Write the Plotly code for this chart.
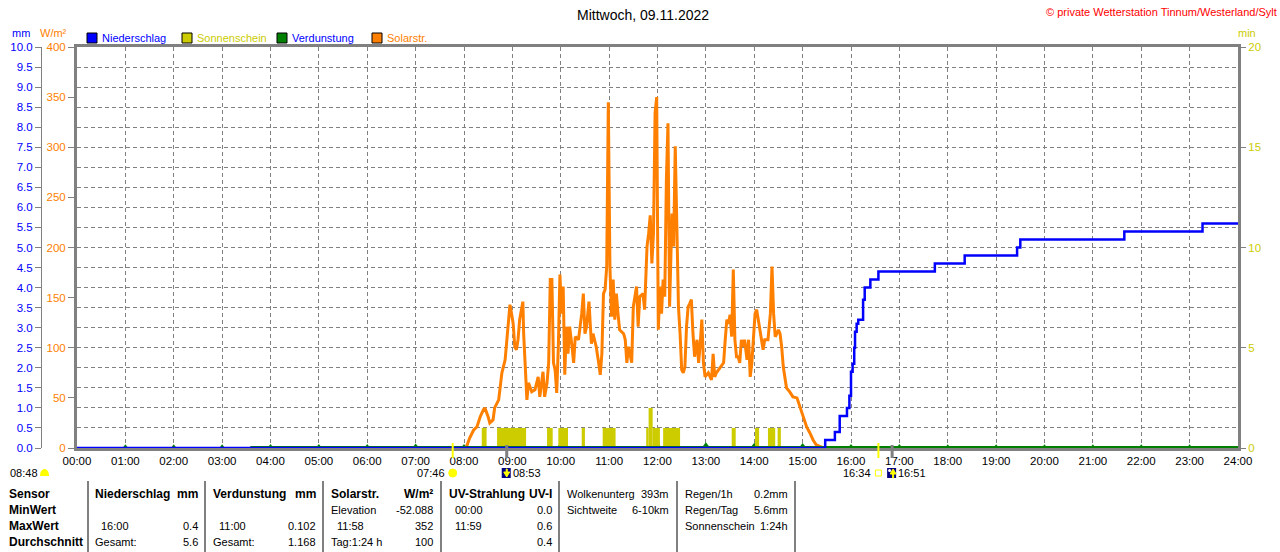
import plotly.graph_objects as go

# ---- data ----
hours = list(range(0, 25))
hour_labels = [f'{h:02d}:00' for h in hours]

# Solarstrahlung, minute of day / W/m²
solar_min = [481, 483, 487, 492, 496, 500, 504, 506, 510, 512, 516, 518, 523, 525, 527,
             531, 533, 535, 537, 539, 541, 543, 545, 547, 549, 553, 554, 556, 558, 560,
             564, 568, 572, 574, 576, 578, 580, 583, 585, 587, 589, 591, 593, 595, 597,
             599, 601, 603, 605, 607, 609, 611, 614, 616, 618, 622, 626, 628, 630, 632,
             635, 638, 640, 644, 647, 649, 651, 653, 655, 657, 659, 661, 663, 665, 667,
             669, 671, 673, 678, 680, 682, 684, 688, 690, 694, 696, 698, 702, 704, 707,
             709, 711, 713, 715, 717, 719, 721, 723, 725, 727, 729, 731, 733, 735, 738,
             740, 742, 744, 746, 748, 750, 752, 754, 756, 758, 760, 762, 764, 766, 769,
             771, 773, 775, 777, 779, 783, 787, 789, 791, 793, 797, 802, 804, 806, 808,
             810, 812, 814, 816, 818, 820, 822, 824, 826, 828, 831, 833, 835, 837, 839,
             841, 843, 845, 847, 849, 851, 853, 857, 860, 862, 864, 866, 868, 870, 872,
             874, 876, 878, 880, 884, 888, 893, 897, 901, 905, 909, 913, 917, 924, 926, 934]
solar_wm2 = [0, 1, 10, 18, 21, 31, 38, 40, 31, 25, 28, 40, 48, 61, 75,
             88, 108, 128, 143, 134, 124, 101, 98, 108, 128, 146, 114, 81, 48, 65,
             56, 58, 71, 51, 65, 76, 51, 65, 85, 168, 168, 85, 78, 55, 101,
             173, 134, 161, 73, 121, 94, 121, 101, 85, 111, 108, 134, 154, 114, 121,
             146, 104, 114, 101, 85, 73, 94, 154, 158, 181, 345, 181, 131, 168, 128,
             154, 134, 118, 114, 108, 85, 101, 85, 141, 161, 121, 151, 154, 138, 201,
             214, 232, 184, 214, 334, 350, 118, 161, 134, 168, 151, 267, 324, 141, 234,
             201, 301, 201, 141, 114, 78, 75, 81, 121, 141, 144, 148, 114, 91, 108,
             85, 104, 128, 85, 71, 75, 68, 94, 71, 75, 80, 85, 108, 128, 124,
             133, 111, 178, 108, 91, 91, 85, 108, 101, 108, 88, 108, 71, 85, 114,
             134, 138, 128, 118, 108, 98, 108, 108, 134, 181, 134, 111, 114, 118, 114,
             101, 81, 68, 60, 56, 51, 50, 41, 31, 21, 15, 8, 3, 1, 0, 0]

# Niederschlag, Tagessumme mm
rain_min = [0, 928, 940, 946, 955, 958, 960, 962, 964, 965, 967, 969, 975, 977, 984,
            994, 1064, 1101, 1166, 1170, 1299, 1396, 1440]
rain_mm = [0, 0.2, 0.4, 0.8, 1.0, 1.3, 1.9, 2.1, 2.5, 2.9, 3.1, 3.2, 3.7, 4.0, 4.2,
           4.4, 4.6, 4.8, 5.0, 5.2, 5.4, 5.6, 5.6]

# Verdunstung
evap_line_min = [215, 1440]
evap_line_mm = [0, 0]
evap_hour = list(range(1, 24))
evap_mm = [0.03, 0.03, 0.03, 0.04, 0.04, 0.04, 0.05, 0.04, 0.06, 0.08, 0.102, 0.09,
           0.08, 0.07, 0.06, 0.04, 0.04, 0.03, 0.03, 0.03, 0.03, 0.03, 0.03]

# Sonnenschein, min
sun_start = [502, 521, 583, 597, 626, 652, 706, 709, 714, 727, 812, 841, 857, 869]
sun_end = [508, 557, 590, 609, 630, 668, 709, 714, 723, 748, 817, 846, 866, 873]
sun_val = [1, 1, 1, 1, 1, 1, 1, 2, 1, 1, 1, 1, 1, 1]

sunrise, sunset = '07:46', '16:34'
moonrise, moonset = '08:53', '16:51'
cloud_time = '08:48'

title = 'Mittwoch, 09.11.2022'
copyright_txt = '© private Wetterstation Tinnum/Westerland/Sylt'

legend_names = ['Niederschlag', 'Sonnenschein', 'Verdunstung', 'Solarstr.']

table_rows = ['Sensor', 'MinWert', 'MaxWert', 'Durchschnitt']
# each column: header left, header right, then rows (left text, right text)
tab_cols = [
    [('Niederschlag', 'mm'), ('', ''), ('16:00', '0.4'), ('Gesamt:', '5.6')],
    [('Verdunstung', 'mm'), ('', ''), ('11:00', '0.102'), ('Gesamt:', '1.168')],
    [('Solarstr.', 'W/m²'), ('Elevation', '-52.088'), ('11:58', '352'), ('Tag:1:24 h', '100')],
    [('UV-Strahlung', 'UV-I'), ('00:00', '0.0'), ('11:59', '0.6'), ('', '0.4')],
    [('Wolkenunterg', '393m'), ('Sichtweite', '6-10km'), ('', ''), ('', '')],
    [('Regen/1h', '0.2mm'), ('Regen/Tag', '5.6mm'), ('Sonnenschein', '1:24h'), ('', '')],
]


def tmin(s):
    h, m = s.split(':')
    return int(h) * 60 + int(m)


# ---- styling / layout ----
W, H = 1280, 552
X0, X1, YT, YB = 77, 1238, 47, 448
BLUE, OLIVE, GREEN, ORANGE, GRAY = '#0000FF', '#CCCC00', '#008000', '#FF8000', '#808080'
FONT = 'Liberation Sans, Arial, sans-serif'


def px(x):
    return x / W


def py(y):
    return 1 - y / H


fig = go.Figure()

# hourly Verdunstung markers live on the main mm axis
fig.add_trace(go.Scatter(
    x=[h * 60 for h in evap_hour], y=evap_mm, mode='markers',
    marker=dict(color=GREEN, size=5, symbol='triangle-up'),
    yaxis='y', showlegend=False))

fig.add_trace(go.Bar(
    x=[(a + b) / 2 for a, b in zip(sun_start, sun_end)],
    y=sun_val,
    width=[b - a for a, b in zip(sun_start, sun_end)],
    marker=dict(color=OLIVE, line=dict(width=0)),
    yaxis='y2', name='Sonnenschein'))

fig.add_trace(go.Scatter(
    x=solar_min, y=solar_wm2, mode='lines',
    line=dict(color=ORANGE, width=3),
    yaxis='y3', name='Solarstr.'))

fig.add_trace(go.Scatter(
    x=evap_line_min, y=evap_line_mm, mode='lines',
    line=dict(color=GREEN, width=4),
    yaxis='y4', name='Verdunstung'))

fig.add_trace(go.Scatter(
    x=rain_min, y=rain_mm, mode='lines', line_shape='hv',
    line=dict(color=BLUE, width=2.5),
    yaxis='y4', name='Niederschlag'))

grid = dict(showgrid=True, gridcolor=GRAY, griddash='4px,3px', gridwidth=1)
yax = dict(showgrid=False, showline=True, linecolor=GRAY, linewidth=3,
           ticks='outside', tickcolor=GRAY, zeroline=False, automargin=False)
fig.update_layout(
    width=W, height=H, autosize=False,
    margin=dict(l=0, r=0, t=0, b=0, pad=0),
    paper_bgcolor='white', plot_bgcolor='white',
    showlegend=False, barmode='overlay',
    font=dict(family=FONT, size=11, color='black'),
    xaxis=dict(domain=[px(X0), px(X1)], range=[0, 1440], anchor='y',
               tickvals=[h * 60 for h in hours], ticktext=hour_labels,
               ticks='', showline=True, mirror=True, linecolor=GRAY, linewidth=3,
               layer='below traces', zeroline=False, automargin=False,
               tickfont=dict(size=11.5), **grid),
    yaxis=dict(domain=[py(YB), py(YT)], range=[0, 10], dtick=0.5, tickformat='.1f',
               anchor='free', position=px(41), side='left',
               showline=True, linecolor=GRAY, linewidth=1,
               ticks='outside', ticklen=6, tickcolor=GRAY, automargin=False,
               tickfont=dict(color=BLUE, size=11.5), zeroline=False, **grid),
    yaxis2=dict(overlaying='y', anchor='x', side='right', range=[0, 20], dtick=5,
                ticklen=5, tickfont=dict(color=OLIVE, size=11.5), **yax),
    yaxis3=dict(overlaying='y', anchor='x', side='left', range=[0, 400], dtick=50,
                ticklen=6, tickfont=dict(color=ORANGE, size=11.5), **yax),
    yaxis4=dict(overlaying='y', anchor='x', range=[0, 10], visible=False,
                automargin=False),
)

ann = []
shapes = []


def text(x, y, s, color='black', anchor='left', size=11, bold=False):
    if bold:
        s = f'<b>{s}</b>'
    ann.append(dict(x=px(x), y=py(y), xref='paper', yref='paper', text=s,
                    showarrow=False, xanchor=anchor, yanchor='middle', borderpad=0,
                    font=dict(color=color, size=size, family=FONT)))


# title, copyright, units
text(643, 15, title, anchor='center', size=14)
text(1278, 12, copyright_txt, color='#FF0000', anchor='right', size=11)
text(31, 33, 'mm', color=BLUE, anchor='right')
text(68, 33, 'W/m²', color=ORANGE, anchor='right')
text(1237, 33, 'min', color=OLIVE)

# legend
box_cols = [BLUE, OLIVE, GREEN, ORANGE]
txt_cols = [BLUE, OLIVE, BLUE, ORANGE]
for i, name in enumerate(legend_names):
    bx = 87 + i * 95
    shapes.append(dict(type='rect', xref='paper', yref='paper',
                       x0=px(bx), x1=px(bx + 10), y0=py(43), y1=py(33),
                       fillcolor=box_cols[i], line=dict(color='black', width=1)))
    text(bx + 14, 38, name, color=txt_cols[i])

# sun / moon events below the time axis
for t in (sunrise, sunset):
    shapes.append(dict(type='line', xref='x', yref='paper', x0=tmin(t), x1=tmin(t),
                       y0=py(443), y1=py(458), line=dict(color='#FFFF00', width=2)))
for t in (moonrise, moonset):
    shapes.append(dict(type='line', xref='x', yref='paper', x0=tmin(t), x1=tmin(t),
                       y0=py(445), y1=py(458), line=dict(color=GRAY, width=3)))


def icon(t, **kw):
    d = dict(xref='x', yref='paper', xsizemode='pixel', ysizemode='pixel',
             xanchor=tmin(t), yanchor=py(473))
    d.update(kw)
    shapes.append(d)


icon(sunrise, type='circle', x0=-4, x1=4, y0=-4, y1=4,
     fillcolor='#FFFF00', line=dict(color='#FFFF00', width=1))
icon(sunset, type='rect', x0=-3, x1=3, y0=-3, y1=3,
     fillcolor='white', line=dict(color='#FFFF00', width=1))
icon(moonrise, type='rect', x0=-5, x1=4, y0=-5, y1=5,
     fillcolor='#000080', line=dict(width=0))
icon(moonrise, type='path', path='M -3 1 L 3 1 L 0 -4 Z M -0.5 1 L 0.5 1 L 0.5 4 L -0.5 4 Z',
     fillcolor='#FFFF00', line=dict(color='#FFFF00', width=1))
icon(moonset, type='rect', x0=-5, x1=4, y0=-5, y1=5,
     fillcolor='#000080', line=dict(width=0))
icon(moonset, type='circle', x0=-4, x1=-1, y0=1, y1=4,
     fillcolor='white', line=dict(width=0))
icon(moonset, type='path', path='M -2 -1 L 4 -1 L 1 4 Z M 0.5 -1 L 1.5 -1 L 1.5 -5 L 0.5 -5 Z',
     fillcolor='#FFFF00', line=dict(color='#FFFF00', width=1))

text(446, 473, sunrise, anchor='right')
text(512, 473, moonrise)
text(872, 473, sunset, anchor='right')
text(897, 473, moonset)
text(9, 473, cloud_time)
shapes.append(dict(type='path', xref='paper', yref='paper',
                   xsizemode='pixel', ysizemode='pixel', xanchor=px(44.5), yanchor=py(473),
                   path='M -4.5 -3 C -4.5 2 -2 4 0 4 C 2 4 4.5 2 4.5 -3 Z',
                   fillcolor='#FFFF00', line=dict(width=0)))

# table
row_y = [494, 510, 526, 542]
for r, s in enumerate(table_rows):
    text(8, row_y[r], s, bold=True, size=12)
col_left = [94, 212, 330, 448, 566, 684]
col_right = [199, 317, 434, 553, 670, 789]
for c, col in enumerate(tab_cols):
    for r, (lt, rt) in enumerate(col):
        bold = r == 0 and c < 4
        sz = 12 if bold else 11
        lx = col_left[c] + (6 if (':' in lt and lt[0].isdigit()) else 0)
        if lt:
            text(lx, row_y[r], lt, bold=bold, size=sz)
        if rt:
            text(col_right[c], row_y[r], rt, anchor='right', bold=bold, size=sz)
for sx in [88, 205, 323, 441, 559, 677, 795]:
    shapes.append(dict(type='line', xref='paper', yref='paper', x0=px(sx), x1=px(sx),
                       y0=py(481), y1=py(552), line=dict(color=GRAY, width=2)))

fig.update_layout(annotations=ann, shapes=shapes)
# page body margin off so the figure sits at the window's top-left corner
fig.write_html('out.html', config={'displayModeBar': False},
               post_script="document.body.style.margin='0px';")
